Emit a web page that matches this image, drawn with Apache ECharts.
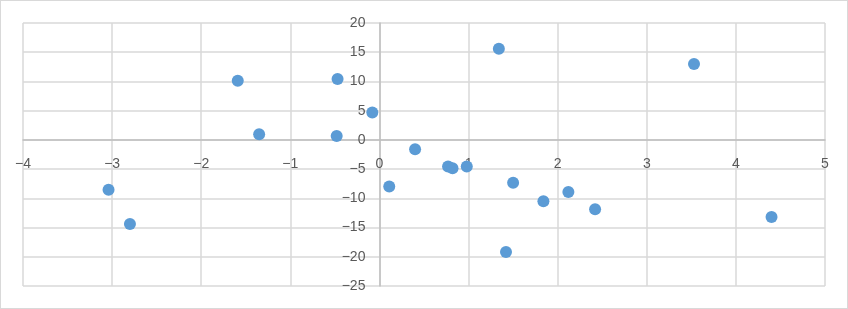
<!DOCTYPE html>
<html>
<head>
<meta charset="utf-8">
<script src="https://cdn.jsdelivr.net/npm/echarts@6/dist/echarts.min.js"></script>
<style>
html, body { margin: 0; padding: 0; background: #fff; }
#scatter {
    position: absolute;
    left: 0;
    top: 0;
    width: 846px;
    height: 307px;
    border: 1px solid #d9d9d9;
}
</style>
</head>
<body>
<div id="scatter"></div>
<script>
    // point values
    const xValues = [-3.04, -2.80, -1.59, -1.35, -0.47, -0.48, -0.08, 0.11, 0.40, 0.77,
                     0.82, 0.98, 1.34, 1.42, 1.50, 1.84, 2.12, 2.42, 3.53, 4.40];
    const yValues = [-8.55, -14.4, 10.1, 0.97, 10.4, 0.68, 4.67, -7.98, -1.6, -4.56,
                     -4.85, -4.56, 15.6, -19.2, -7.35, -10.5, -8.9, -11.85, 13.0, -13.2];

    const xTicks = { min: -4, max: 5, step: 1 };
    const yTicks = { min: -25, max: 20, step: 5 };

    let points = xValues.map((x, i) => [x, yValues[i]]);

    let labelStyle = {
        color: '#595959',
        fontSize: 14,
        fontFamily: 'Liberation Sans, Arial, sans-serif'
    };
    let minus = v => String(v).replace('-', '\u2212');

    let gridBox = { left: 22, right: 22, top: 22, bottom: 22 };

    let chart = echarts.init(document.getElementById('scatter'));
    chart.setOption({
        animation: false,
        grid: Object.assign({ containLabel: false, outerBoundsMode: 'none' }, gridBox),
        xAxis: {
            type: 'value',
            min: xTicks.min,
            max: xTicks.max,
            interval: xTicks.step,
            axisLine: { onZero: false, lineStyle: { color: '#bfbfbf', width: 1.5 } },
            axisTick: { show: false },
            axisLabel: Object.assign({ margin: 17, formatter: minus }, labelStyle),
            splitLine: { show: true, lineStyle: { color: '#d9d9d9', width: 1.5 } }
        },
        yAxis: {
            type: 'value',
            min: yTicks.min,
            max: yTicks.max,
            interval: yTicks.step,
            axisLine: { onZero: false, lineStyle: { color: '#bfbfbf', width: 1.5 } },
            axisTick: { show: false },
            axisLabel: Object.assign({ margin: 14, formatter: minus }, labelStyle),
            splitLine: { show: true, lineStyle: { color: '#d9d9d9', width: 1.5 } }
        },
        series: [{
            type: 'scatter',
            data: points,
            symbolSize: 12,
            itemStyle: { color: '#5b9bd5', opacity: 1 }
        }]
    });

    // move both axes (line + labels) onto the zero crossing, like the original
    let zero = chart.convertToPixel({ gridIndex: 0 }, [0, 0]);
    let h = chart.getHeight();
    chart.setOption({
        xAxis: { offset: -((h - gridBox.bottom) - zero[1]) },
        yAxis: { offset: -(zero[0] - gridBox.left) }
    });
</script>
</body>
</html>
